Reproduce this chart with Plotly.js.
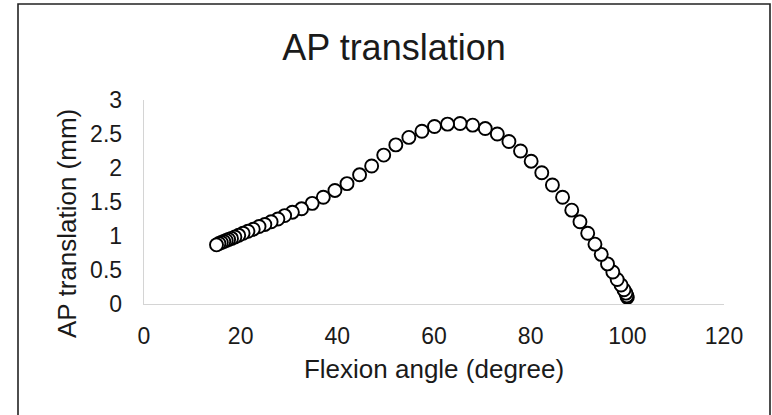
<!DOCTYPE html>
<html>
<head>
<meta charset="utf-8">
<script src="https://cdn.plot.ly/plotly-3.0.1.min.js"></script>
<style>
  html, body { margin: 0; padding: 0; background: #fff; }
  #chart { width: 772px; height: 415px; }
</style>
</head>
<body>
<div id="chart"></div>
<script>
// Flexion angle (degree), in recorded order (from full flexion back to start)
const flexionAngle = [100.0, 99.9, 99.7, 99.3, 98.7, 97.9, 97.0, 95.9, 94.6, 93.3, 91.8, 90.2, 88.5, 86.6, 84.5, 82.3, 80.1, 77.9, 75.5, 73.1, 70.6, 68.0, 65.4, 62.8, 60.1, 57.5, 54.8, 52.1, 49.6, 47.1, 44.6, 42.0, 39.5, 37.1, 34.8, 32.6, 30.7, 29.1, 27.7, 26.3, 25.0, 23.8, 22.6, 21.5, 20.5, 19.6, 18.8, 18.1, 17.5, 17.0, 16.5, 16.0, 15.5, 15.0];
// AP translation (mm)
const apTranslation = [0.10, 0.12, 0.16, 0.21, 0.28, 0.36, 0.47, 0.59, 0.73, 0.88, 1.04, 1.21, 1.38, 1.57, 1.75, 1.93, 2.10, 2.25, 2.39, 2.50, 2.58, 2.63, 2.655, 2.645, 2.61, 2.54, 2.45, 2.34, 2.19, 2.03, 1.90, 1.77, 1.67, 1.57, 1.48, 1.40, 1.35, 1.30, 1.25, 1.21, 1.17, 1.14, 1.10, 1.07, 1.04, 1.01, 0.985, 0.965, 0.95, 0.935, 0.92, 0.905, 0.89, 0.87];

const xTicks = [0, 20, 40, 60, 80, 100, 120];
const yTicks = [0, 0.5, 1, 1.5, 2, 2.5, 3];
const yTickText = ['0', '0.5', '1', '1.5', '2', '2.5', '3'];

const chartTitle = 'AP translation';
const xTitle = 'Flexion angle (degree)';
const yTitle = 'AP translation (mm)';

const FONT = '"Liberation Sans", Arial, Helvetica, sans-serif';

const trace = {
  type: 'scatter',
  mode: 'markers',
  x: flexionAngle,
  y: apTranslation,
  marker: {
    symbol: 'circle',
    size: 13,
    color: '#ffffff',
    line: { color: '#000000', width: 1.9 }
  },
  hoverinfo: 'x+y'
};

const L = 144, R = 48, T = 100, B = 111;
const PW = 772 - L - R, PH = 415 - T - B;
const px = v => (v - L) / PW;          // pixel x -> paper x
const py = v => (415 - B - v) / PH;    // pixel y -> paper y

const layout = {
  width: 772,
  height: 415,
  margin: { l: L, r: R, t: T, b: B, pad: 0 },
  paper_bgcolor: '#ffffff',
  plot_bgcolor: '#ffffff',
  showlegend: false,
  font: { family: FONT, color: '#1a1a1a', size: 23 },
  title: {
    text: chartTitle,
    font: { family: FONT, size: 36, color: '#1a1a1a' },
    xref: 'paper',
    x: px(394),
    xanchor: 'center',
    yref: 'container',
    y: 1 - 47 / 415,
    yanchor: 'middle'
  },
  xaxis: {
    range: [0, 120],
    tickvals: xTicks,
    ticktext: xTicks.map(String),
    showgrid: false,
    zeroline: false,
    showline: true,
    linecolor: '#d4d4d4',
    linewidth: 1.3,
    ticks: '',
    ticklabelstandoff: 11,
    tickfont: { family: FONT, size: 23, color: '#1a1a1a' },
    title: {
      text: xTitle,
      font: { family: FONT, size: 26, color: '#1a1a1a' },
      standoff: 12
    },
    automargin: false,
    fixedrange: true
  },
  yaxis: {
    range: [0, 3],
    tickvals: yTicks,
    ticktext: yTickText,
    showgrid: false,
    zeroline: false,
    showline: true,
    linecolor: '#d4d4d4',
    linewidth: 1.3,
    ticks: '',
    ticklabelstandoff: 16,
    tickfont: { family: FONT, size: 23, color: '#1a1a1a' },
    automargin: false,
    fixedrange: true
  },
  annotations: [{
    text: yTitle,
    textangle: -90,
    xref: 'paper',
    yref: 'paper',
    x: px(67),
    y: py(224),
    xanchor: 'center',
    yanchor: 'middle',
    showarrow: false,
    font: { family: FONT, size: 26, color: '#1a1a1a' }
  }],
  shapes: [{
    type: 'rect',
    xref: 'paper',
    yref: 'paper',
    x0: px(18),
    x1: px(770),
    y0: py(440),
    y1: py(4),
    line: { color: '#222222', width: 1.6 },
    fillcolor: 'rgba(0,0,0,0)',
    layer: 'below'
  }]
};

Plotly.newPlot('chart', [trace], layout, { displayModeBar: false, staticPlot: true });
</script>
</body>
</html>
